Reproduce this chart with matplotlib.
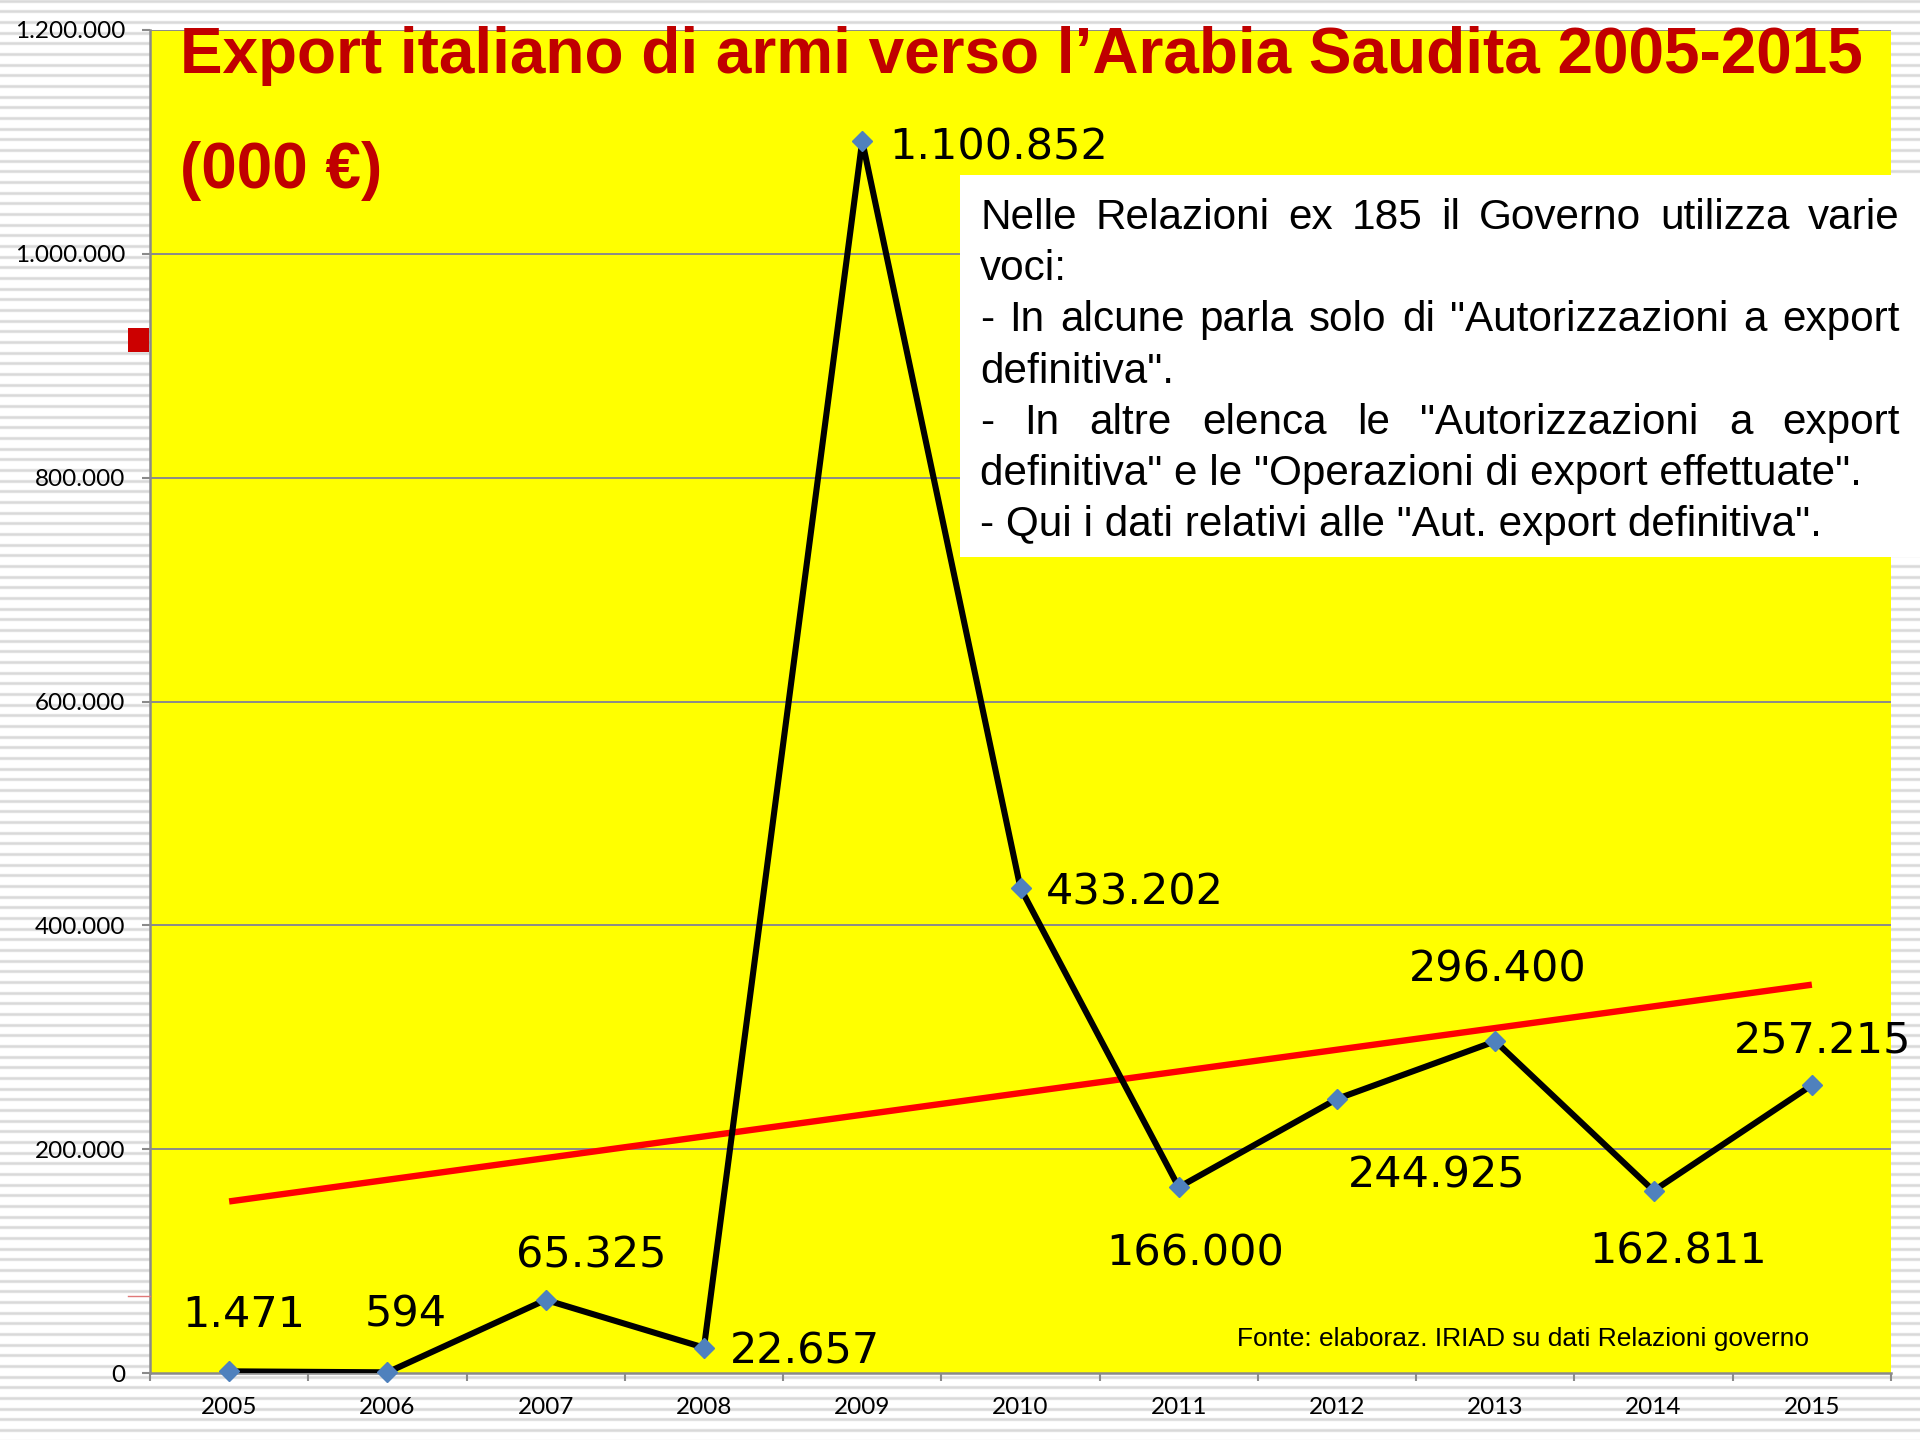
import numpy as np
import matplotlib
matplotlib.use("Agg")
import matplotlib.pyplot as plt
from matplotlib.transforms import Affine2D
from matplotlib.patches import Rectangle
from matplotlib.lines import Line2D

# ---- data -------------------------------------------------------------
years = ["2005", "2006", "2007", "2008", "2009", "2010",
         "2011", "2012", "2013", "2014", "2015"]
export_values = [1471, 594, 65325, 22657, 1100852, 433202,
                 166000, 244925, 296400, 162811, 257215]
ytick_values = [0, 200000, 400000, 600000, 800000, 1000000, 1200000]
ytick_labels = ["0", "200.000", "400.000", "600.000", "800.000",
                "1.000.000", "1.200.000"]

title_line1 = "Export italiano di armi verso l\u2019Arabia Saudita 2005-2015"
title_line2 = "(000 \u20ac)"
source_note = "Fonte: elaboraz. IRIAD su dati Relazioni governo"
note_lines = [
    ("Nelle Relazioni ex 185 il Governo utilizza varie", True),
    ("voci:", False),
    ("- In alcune parla solo di \"Autorizzazioni a export", True),
    ("definitiva\".", False),
    ("- In altre elenca le \"Autorizzazioni a export", True),
    ("definitiva\" e le \"Operazioni di export effettuate\".", False),
    ("- Qui i dati relativi alle \"Aut. export definitiva\".", False),
]

# label offsets (points) relative to each point, baseline anchored
label_offsets = [(10.6, 32), (13.2, 33), (32.6, 23.5), (73, -11.7),
                 (98, -13.4), (82, -11.7), (11.5, -56.6), (71.4, -63.7),
                 (1.8, 43), (17.6, -52.2), (7.9, 22.7)]


def fmt_it(v):
    return f"{int(round(v)):,}".replace(",", ".")


W, H = 1920, 1440
fig = plt.figure(figsize=(W / 100, H / 100), dpi=100)
fig.patch.set_facecolor("white")
# pixel coordinates measured from the top-left corner
px = Affine2D().scale(1 / W, -1 / H).translate(0, 1) + fig.transFigure

# striped background
bg = fig.add_axes([0, 0, 1, 1], zorder=-5)
bg.set_xlim(0, W)
bg.set_ylim(H, 0)
bg.axis("off")
period = H / 135
for k in range(136):
    y = 0.6 + k * period
    bg.axhline(y, color="#e4e4e4", lw=2.4, zorder=0)
    bg.axhline(y, color="#d9d9d9", lw=1.0, zorder=0)

# ---- main chart ------------------------------------------------------
left, right, top, bottom = 150, 1891, 30, 1373
ax = fig.add_axes([left / W, 1 - bottom / H, (right - left) / W, (bottom - top) / H])
ax.set_facecolor("#FFFF00")

x = np.arange(len(years))
ax.set_xlim(-0.5, len(years) - 0.5)
ax.set_ylim(0, 1200000)

grid_c = "#8a8a8a"
for v in ytick_values[1:]:
    ax.axhline(v, color=grid_c, lw=1.4, zorder=1)

for s in ["top", "right"]:
    ax.spines[s].set_visible(False)
for s in ["left", "bottom"]:
    ax.spines[s].set_color(grid_c)
    ax.spines[s].set_linewidth(1.8)

ax.set_yticks(ytick_values)
ax.set_yticklabels(ytick_labels)
ax.set_xticks(x)
ax.set_xticklabels(years)
ax.set_xticks(np.arange(-0.5, len(years)), minor=True)
ax.tick_params(axis="x", which="major", length=0, pad=17)
ax.tick_params(axis="x", which="minor", length=6, width=1.5, color=grid_c)
ax.tick_params(axis="y", which="major", length=6, width=1.5, color=grid_c, pad=12)
for lab in ax.get_xticklabels() + ax.get_yticklabels():
    lab.set_fontfamily(["Lato", "DejaVu Sans"])
    lab.set_fontsize(17.5)
    lab.set_color("black")

# trend line (least squares fit over the series)
coef = np.polyfit(x, export_values, 1)
ax.plot(x, np.polyval(coef, x), color="#FF0000", lw=4.6, zorder=3,
        solid_capstyle="butt")

# main series
ax.plot(x, export_values, color="black", lw=4.4, zorder=4,
        solid_joinstyle="round")
ax.plot(x, export_values, ls="none", marker="D", ms=10.5,
        color="#4F81BD", mec="#4F81BD", zorder=5, clip_on=False)

for xi, v, (dx, dy) in zip(x, export_values, label_offsets):
    ax.annotate(fmt_it(v), (xi, v), xytext=(dx, dy), textcoords="offset points",
                ha="center", va="baseline", fontsize=31,
                family="DejaVu Sans", color="black", zorder=6)

# source note
fig.text(1237, 1346, source_note, transform=px, fontsize=19,
         family="Liberation Sans", color="black", ha="left", va="baseline")

# title
title_c = "#C00000"
fig.text(180, 73.5, title_line1, transform=px, fontsize=46, fontweight="bold",
         family="Liberation Sans", color=title_c, ha="left", va="baseline")
fig.text(180, 188, title_line2, transform=px, fontsize=46, fontweight="bold",
         family="Liberation Sans", color=title_c, ha="left", va="baseline")

# small red marks at the left edge
fig.add_artist(Rectangle((128, 328), 21, 24, transform=px,
                         facecolor="#CC0000", edgecolor="none", zorder=10))
fig.add_artist(Line2D([128, 150], [1296, 1296], transform=px,
                      color="#E07878", lw=1.0, zorder=10))

# white note box with justified text
fig.add_artist(Rectangle((960, 175), W - 960, 382, transform=px,
                         facecolor="white", edgecolor="none", zorder=20))

note_left, note_right = 980, 1900
baseline0, line_step = 229, 51.2
note_font = dict(fontsize=30.4, family="Liberation Sans", color="black",
                 ha="left", va="baseline", zorder=21)

fig.canvas.draw()
renderer = fig.canvas.get_renderer()
for i, (line, justify) in enumerate(note_lines):
    yb = baseline0 + i * line_step
    if not justify:
        fig.text(note_left, yb, line, transform=px, **note_font)
        continue
    words = line.split()
    texts = [fig.text(note_left, yb, w, transform=px, **note_font) for w in words]
    widths = [t.get_window_extent(renderer).width for t in texts]
    gap = (note_right - note_left - sum(widths)) / (len(words) - 1)
    xpos = note_left
    for t, w in zip(texts, widths):
        t.set_position((xpos, yb))
        xpos += w + gap

fig.savefig("out.png", dpi=100, facecolor=fig.get_facecolor())
